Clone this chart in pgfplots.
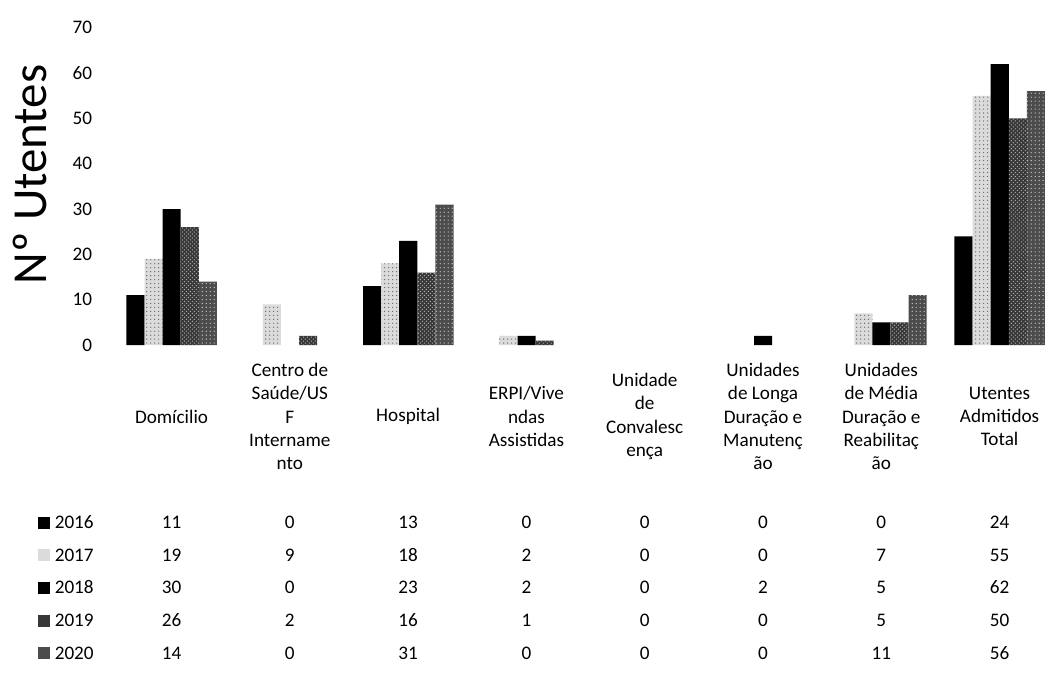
\documentclass[border=0pt]{standalone}
\usepackage{fontspec}
\setmainfont{Carlito}
\usepackage{pgfplots}
\usepackage{pgfplotstable}
\pgfplotsset{compat=1.18}
\usetikzlibrary{patterns}

\pgfplotstableread{
x y2016 y2017 y2018 y2019 y2020
0 11 19 30 26 14
1 0 9 0 2 0
2 13 18 23 16 31
3 0 2 2 1 0
4 0 0 0 0 0
5 0 0 2 0 0
6 0 7 5 5 11
7 24 55 62 50 56
}\datatable

\newcommand{\fs}{\fontsize{14.5}{17.6}\selectfont}
\colorlet{cA}{black}
\colorlet{cB}{black!14}
\colorlet{cC}{black}
\colorlet{cD}{black!78}
\colorlet{cE}{black!70}

\begin{document}
\begin{tikzpicture}
\begin{scope}[x=0.75pt,y=-0.75pt]
\path[use as bounding box] (0,0) rectangle (1059,686);
\end{scope}
\begin{axis}[
  scale only axis,
  width=715.8pt, height=240pt,
  at={(85.125pt,-261pt)}, anchor=south west,
  xmin=-0.5, xmax=7.5, ymin=0, ymax=70,
  ytick={0,10,...,70}, xtick=\empty,
  axis line style={draw=none},
  major tick length=0pt,
  ybar=0pt, bar width=0.153,
  unbounded coords=jump,
  y filter/.expression={y==0 ? nan : y},
  /pgf/number format/assume math mode=true,
  yticklabel style={font=\fs, xshift=-12pt},
  clip=false,
]
\addplot[fill=cA, draw=none] table[x=x,y=y2016]{\datatable};
\addplot[fill=cB, draw=none, postaction={pattern=dots, pattern color=black!60}] table[x=x,y=y2017]{\datatable};
\addplot[fill=cC, draw=none] table[x=x,y=y2018]{\datatable};
\addplot[fill=cD, draw=none, postaction={pattern=crosshatch dots, pattern color=white!70!black}] table[x=x,y=y2019]{\datatable};
\addplot[fill=cE, draw=none, postaction={pattern=dots, pattern color=white!80!black}] table[x=x,y=y2020]{\datatable};
\end{axis}
\begin{scope}[x=0.75pt,y=-0.75pt]
\node[rotate=90, font=\fontsize{37}{42}\selectfont] at (30,176) {Nº Utentes};
\foreach \lab [count=\i from 0] in {
  {Domícilio},
  {Centro de\\Saúde/US\\F\\Intername\\nto},
  {Hospital},
  {ERPI/Vive\\ndas\\Assistidas},
  {Unidade\\de\\Convalesc\\ença},
  {Unidades\\de Longa\\Duração e\\Manutenç\\ão},
  {Unidades\\de Média\\Duração e\\Reabilitaç\\ão},
  {Utentes\\Admitidos\\Total}}
  \node[align=center, font=\fs, inner sep=0pt] at ({173+119.3*\i},420) {\lab};
\foreach \yr/\py/\vals/\col in {
  2016/527/{11,0,13,0,0,0,0,24}/cA,
  2017/560/{19,9,18,2,0,0,7,55}/cB,
  2018/593/{30,0,23,2,0,2,5,62}/cC,
  2019/626/{26,2,16,1,0,0,5,50}/cD,
  2020/659/{14,0,31,0,0,0,11,56}/cE} {
  \fill[\col] (38,\py-6) rectangle (50,\py+6);
  \node[anchor=base west, font=\fs, inner sep=0pt] at (55,\py+6) {\yr};
  \foreach \v [count=\i from 0] in \vals
    \node[anchor=base, font=\fs, inner sep=0pt] at ({173+119.3*\i},\py+6) {\v};
}
\end{scope}
\end{tikzpicture}
\end{document}
